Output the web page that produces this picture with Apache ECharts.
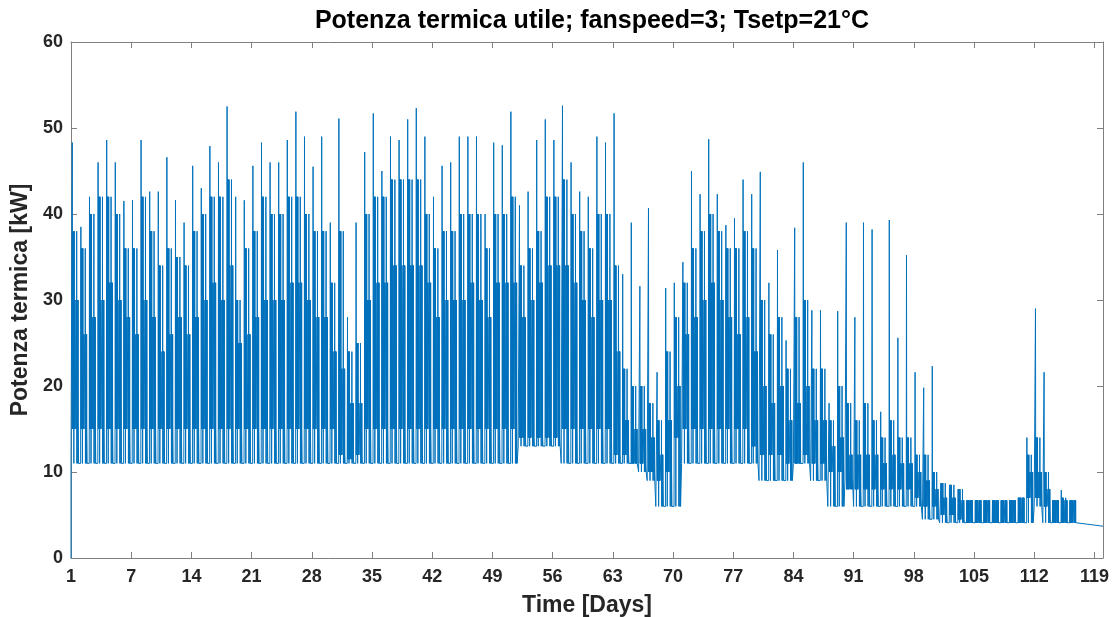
<!DOCTYPE html>
<html><head><meta charset="utf-8">
<script src="https://cdn.jsdelivr.net/npm/echarts@6/dist/echarts.min.js"></script>
<style>html,body{margin:0;padding:0;background:#fff}#c{width:1116px;height:617px}</style>
</head><body><div id="c"></div>
<script>
// ---- tick data ----
const xTickValues = [0,7,14,21,28,35,42,49,56,63,70,77,84,91,98,105,112,119];
const xTickLabels = ['1','7','14','21','28','35','42','49','56','63','70','77','84','91','98','105','112','119'];

// ---- series data (kW), one entry per day (day 0 .. 116) ----
const startT = [0];
const startV = [0];
const peak = [
48.3,38.5,42,46,48.6,46,41.5,41.6,48.6,42.6,
42.6,46.6,41.6,39,45.6,43,47.9,46,52.5,42,
41.6,45.6,48.3,46,46,48.6,51.9,49,45.5,49,
39,51.1,28,39,47.2,51.7,45,49,48.6,51,
52.3,49,42,45.6,46,49,49,49,40,48.3,
48,51.9,41,42.6,48.6,51,48.6,52.6,46,42.6,
42,49,48.3,51.7,33,39,31.6,40.7,21.6,31.4,
32,34.4,45,42.3,48.7,42.3,38.7,39.5,44,42.3,
44.9,32,35.8,25.3,38.4,46,28.8,28.8,18,28.7,
39,28,39,38.2,17,39.3,25.6,35.2,21.6,19.8,
22.3,8.7,8.5,8,6.7,6.7,6.7,6.7,6.7,6.7,
7,14,29,21.6,6.7,7.9,6.7];
const hiA = [
38,36,40,42,42,40,36,36,42,38,
34,36,35,34,38,40,42,42,44,30,
36,38,42,40,40,42,42,40,38,38,
32,38,24,25,40,42,42,44,44,44,
44,40,36,38,38,40,40,40,36,40,
40,42,34,36,38,42,42,44,40,38,
36,40,40,34,22,20,20,18,16,24,
28,32,36,38,40,38,36,36,38,36,
30,26,28,22,28,30,22,22,16,20,
18,16,18,16,14,16,14,14,12,12,
10,8.7,8.5,8,6.7,6.7,6.7,6.7,6.7,6.7,
7,12,14,10,6.7,7,6.7];
const hiB = [
30,26,28,30,32,30,28,26,30,28,
24,26,28,26,28,30,32,30,34,25,
26,28,30,30,30,32,32,30,28,28,
24,22,18,18,30,32,32,34,34,34,
34,32,28,30,30,30,32,30,28,32,
32,32,28,30,32,34,34,34,32,30,
28,30,30,24,16,15,15,14,12,16,
20,26,28,30,32,30,28,26,28,24,
20,18,20,16,18,20,16,16,13,14,
12,12,12,12,11,12,11,11,10,9,
8,7,7,6.7,6.7,6.7,6.7,6.7,6.7,6.7,
7,10,10,8,6.7,6.7,6.7];
const lo = [
15,15,15,15,15,15,15,15,15,15,
15,15,15,15,15,15,15,15,15,15,
15,15,15,15,15,15,15,15,15,15,
15,12,11.5,12,15,15,15,15,15,15,
15,15,15,15,15,15,15,15,15,15,
15,15,14,14,14,14,14,15,15,15,
15,15,15,12,12,11,11,10,9,10,
14,15,15,15,15,15,15,15,15,13,
12,12,12,11,11,12,11,11,10,10,
8,8,8,8,8,8,8,8,7,6,
6,5,5,4.5,4.1,4.1,4.1,4.1,4.1,4.1,
4.1,7,7,6,4.1,4.1,4.1];
const base = [
11,11,11,11,11,11,11,11,11,11,
11,11,11,11,11,11,11,11,11,11,
11,11,11,11,11,11,11,11,11,11,
11,11,11,11,11,11,11,11,11,11,
11,11,11,11,11,11,11,11,11,11,
11,11,13,13,13,13,13,11,11,11,
11,11,11,11,11,11,10,9,6,6,
6,11,11,11,11,11,11,11,11,11,
9,9,9,9,11,11,9,9,6,6,
9,6,6,6,6,6,6,6,6,4.5,
4.5,4.1,4.1,4.1,4.1,4.1,4.1,4.1,4.1,4.1,
4.1,4.1,6,4.1,4.1,4.1,4.1];
const tailT = [117, 120];
const tailV = [4.1, 3.7];

// ---- build the time series from the daily readings ----
// within-day ordering of the read levels (which level each swing reaches)
const morningTops = ['A','B','A','A','B','A','B','B'];
const morningLows = ['L','L','L','N','L','L','L','L'];
const eveningTops = ['B','A','B','B','B','B'];
const eveningLows = ['L','N','L','L','N','L'];
const pts = [];
for (let i = 0; i < startT.length; i++) pts.push([startT[i], startV[i]]);
for (let d = 0; d < peak.length; d++) {
  const lev = {A: hiA[d], B: hiB[d], L: lo[d], N: base[d]};
  pts.push([d, base[d]]);
  pts.push([d + 0.12, base[d]]);
  pts.push([d + 0.15, peak[d]]);
  pts.push([d + 0.18, lo[d]]);
  for (let k = 0; k < morningTops.length; k++) {
    pts.push([d + 0.20 + 0.037 * k, lev[morningTops[k]]]);
    pts.push([d + 0.218 + 0.037 * k, lev[morningLows[k]]]);
  }
  pts.push([d + 0.60, lo[d]]);
  for (let k = 0; k < eveningTops.length; k++) {
    pts.push([d + 0.62 + 0.04 * k, lev[eveningTops[k]]]);
    pts.push([d + 0.64 + 0.04 * k, lev[eveningLows[k]]]);
  }
  pts.push([d + 0.88, base[d]]);
}
for (let i = 0; i < tailT.length; i++) pts.push([tailT[i], tailV[i]]);

const axisCol = '#808080';
const txtCol = '#262626';
const font = 'Liberation Sans, Arial, Helvetica, sans-serif';

const chart = echarts.init(document.getElementById('c'), null, {renderer: 'canvas'});
chart.setOption({
  animation: false,
  backgroundColor: '#fff',
  title: {
    text: 'Potenza termica utile; fanspeed=3; Tsetp=21°C',
    left: 587, top: 4, textAlign: 'center',
    textStyle: {fontFamily: font, fontWeight: 'bold', fontSize: 25, color: '#000'}
  },
  grid: {left: 71, right: 13, top: 42, bottom: 59, containLabel: false, outerBoundsMode: 'none'},
  xAxis: [{
    type: 'value', min: 0, max: 120, position: 'bottom',
    name: 'Time [Days]', nameLocation: 'middle', nameGap: 36,
    nameTextStyle: {fontFamily: font, fontWeight: 'bold', fontSize: 23, color: txtCol},
    axisLine: {show: true, onZero: false, lineStyle: {color: axisCol, width: 1}},
    axisTick: {show: true, inside: true, length: 6, customValues: xTickValues, lineStyle: {color: axisCol}},
    axisLabel: {show: true, customValues: xTickValues, margin: 10,
      formatter: v => xTickLabels[xTickValues.indexOf(v)],
      fontFamily: font, fontWeight: 'bold', fontSize: 18, color: txtCol},
    splitLine: {show: false}
  }, {
    type: 'value', min: 0, max: 120, position: 'top',
    axisLine: {show: true, onZero: false, lineStyle: {color: axisCol, width: 1}},
    axisTick: {show: true, inside: true, length: 6, customValues: xTickValues, lineStyle: {color: axisCol}},
    axisLabel: {show: false},
    splitLine: {show: false}
  }],
  yAxis: [{
    type: 'value', min: 0, max: 60, interval: 10, position: 'left',
    name: 'Potenza termica [kW]', nameLocation: 'middle', nameGap: 37, nameRotate: 90,
    nameTextStyle: {fontFamily: font, fontWeight: 'bold', fontSize: 23, color: txtCol},
    axisLine: {show: true, onZero: false, lineStyle: {color: axisCol, width: 1}},
    axisTick: {show: true, inside: true, length: 6, lineStyle: {color: axisCol}},
    axisLabel: {show: true, margin: 8, fontFamily: font, fontWeight: 'bold', fontSize: 18, color: txtCol},
    splitLine: {show: false}
  }, {
    type: 'value', min: 0, max: 60, interval: 10, position: 'right',
    axisLine: {show: true, onZero: false, lineStyle: {color: axisCol, width: 1}},
    axisTick: {show: true, inside: true, length: 6, lineStyle: {color: axisCol}},
    axisLabel: {show: false},
    splitLine: {show: false}
  }],
  series: [{
    type: 'line', xAxisIndex: 0, yAxisIndex: 0,
    data: pts, showSymbol: false, symbol: 'none', sampling: null,
    lineStyle: {color: '#0072BD', width: 1},
    emphasis: {disabled: true}
  }]
});
</script>
</body></html>
